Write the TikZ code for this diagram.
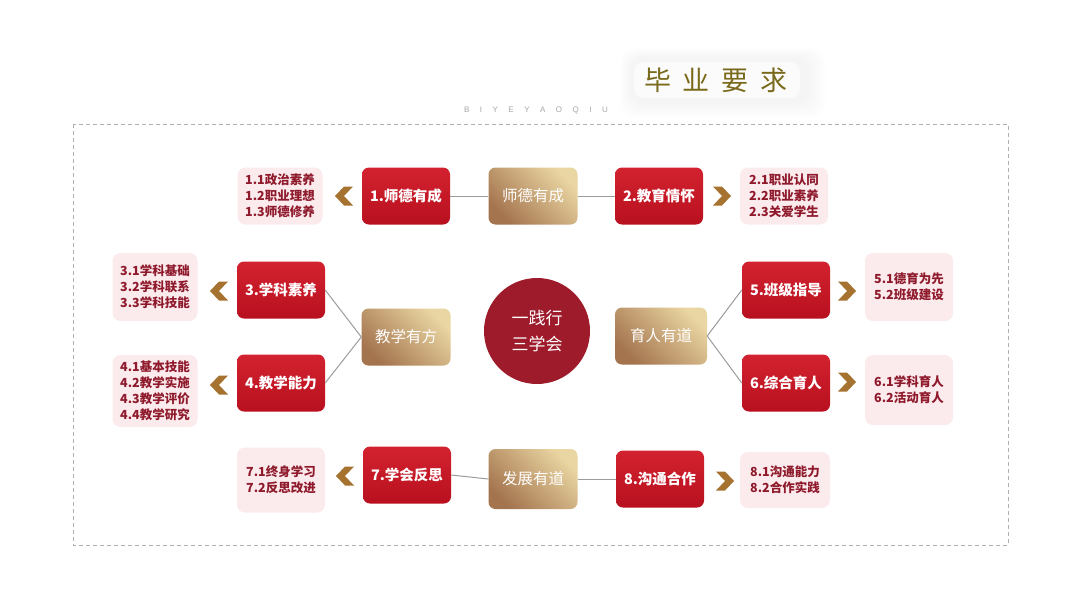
\documentclass[tikz,border=0pt]{standalone}
\usepackage{fontspec}
\newfontfamily\cjk{Noto Sans CJK SC}
\setsansfont{Liberation Sans}
\definecolor{redA}{HTML}{D3222F}
\definecolor{redB}{HTML}{B8101F}
\definecolor{goldD}{HTML}{A4744E}
\definecolor{goldL}{HTML}{EAD6A2}
\definecolor{pinkbg}{HTML}{FCEBED}
\definecolor{listred}{HTML}{8E1A2C}
\definecolor{circred}{HTML}{9E1B2B}
\definecolor{chevc}{HTML}{A6722F}
\definecolor{linec}{HTML}{9C9C9C}
\definecolor{titlec}{HTML}{7A6A1C}
\definecolor{framec}{HTML}{B0B0B0}
\tikzset{
  redbox/.style={rounded corners=7pt, minimum width=88pt, minimum height=57pt,
    top color=redA, bottom color=redB, draw=none, text=white, inner sep=0pt,
    font=\cjk\bfseries\fontsize{14.5}{18}\selectfont},
  goldbox/.style={rounded corners=7pt, minimum width=89pt, minimum height=57pt,
    left color=goldD, right color=goldL, shading angle=135, draw=none, text=white, inner sep=0pt,
    font=\cjk\fontsize{15.5}{18}\selectfont},
  listbox/.style={rounded corners=8pt, fill=pinkbg, text=listred, inner sep=0pt, align=left,
    font=\cjk\bfseries\fontsize{12.5}{16}\selectfont},
  conn/.style={draw=linec, line width=1pt},
  chevl/.pic={\fill[chevc] (-9,0) -- (0,-9.5) -- (9,-9.5) -- (0,0) -- (9,9.5) -- (0,9.5) -- cycle;},
  chevr/.pic={\fill[chevc] (9,0) -- (0,-9.5) -- (-9,-9.5) -- (0,0) -- (-9,9.5) -- (0,9.5) -- cycle;}
}
\begin{document}
\begin{tikzpicture}[x=1pt,y=-1pt]
\useasboundingbox[fill=white] (0,0) rectangle (1080,614);
% title glow
\foreach \i in {1,...,10}{
  \fill[black, opacity=0.004, rounded corners=14pt] (632-1.2*\i,58-1.0*\i) rectangle (808+1.8*\i,102+1.6*\i);
}
\fill[white, opacity=0.6, rounded corners=10pt] (634,62) rectangle (800,98);
\node[text=titlec, font=\cjk\fontsize{27}{30}\selectfont, inner sep=0pt] (title) at (716,80)
  {毕\hspace{12pt}业\hspace{12pt}要\hspace{12pt}求};
\node[text=gray!70, font=\sffamily\fontsize{8}{9}\selectfont, inner sep=0pt] (sub) at (536,110)
  {B\hspace{10.5pt}I\hspace{10.5pt}Y\hspace{10.5pt}E\hspace{10.5pt}Y\hspace{10.5pt}A\hspace{10.5pt}O\hspace{10.5pt}Q\hspace{10.5pt}I\hspace{10.5pt}U};
% frame
\draw[framec, line width=0.9pt, dash pattern=on 4pt off 3pt] (73,124) rectangle (1008,545);

% center
\node[circle, fill=circred, minimum size=106pt, inner sep=0pt, text=white, align=center,
  font=\cjk\fontsize{17}{26}\selectfont] (core) at (537,331) {一践行\\三学会};

% gold nodes
\node[goldbox] (g1) at (533,196) {师德有成};
\node[goldbox] (g2) at (406,337) {教学有方};
\node[goldbox, minimum width=92pt] (g3) at (661,336) {育人有道};
\node[goldbox, minimum height=60pt] (g4) at (533,479) {发展有道};

% red nodes
\node[redbox] (r1) at (406,196) {1.师德有成};
\node[redbox] (r2) at (659,196) {2.教育情怀};
\node[redbox] (r3) at (281,290) {3.学科素养};
\node[redbox] (r4) at (281,383) {4.教学能力};
\node[redbox] (r5) at (786,290) {5.班级指导};
\node[redbox] (r6) at (786,383) {6.综合育人};
\node[redbox] (r7) at (407,475) {7.学会反思};
\node[redbox] (r8) at (660,479) {8.沟通合作};

% lists
\node[listbox, minimum width=85pt, minimum height=57pt] (l1) at (280,196) {1.1政治素养\\1.2职业理想\\1.3师德修养};
\node[listbox, minimum width=88pt, minimum height=57pt] (l2) at (784,196) {2.1职业认同\\2.2职业素养\\2.3关爱学生};
\node[listbox, minimum width=85pt, minimum height=68pt] (l3) at (155,287) {3.1学科基础\\3.2学科联系\\3.3学科技能};
\node[listbox, minimum width=85pt, minimum height=72pt] (l4) at (155,391) {4.1基本技能\\4.2教学实施\\4.3教学评价\\4.4教学研究};
\node[listbox, minimum width=88pt, minimum height=68pt] (l5) at (909,287) {5.1德育为先\\5.2班级建设};
\node[listbox, minimum width=88pt, minimum height=70pt] (l6) at (909,390) {6.1学科育人\\6.2活动育人};
\node[listbox, minimum width=88pt, minimum height=65pt] (l7) at (281,480) {7.1终身学习\\7.2反思改进};
\node[listbox, minimum width=90pt, minimum height=56pt] (l8) at (785,480) {8.1沟通能力\\8.2合作实践};

% connectors
\draw[conn] (r1.east) -- (g1.west);
\draw[conn] (g1.east) -- (r2.west);
\draw[conn] (g2.west) -- (r3.east);
\draw[conn] (g2.west) -- (r4.east);
\draw[conn] (g3.east) -- (r5.west);
\draw[conn] (g3.east) -- (r6.west);
\draw[conn] (r7.east) -- (g4.west);
\draw[conn] (g4.east) -- (r8.west);

% chevrons
\pic (c1) at (344,196) {chevl};
\pic (c2) at (722,196) {chevr};
\pic (c3) at (219,291) {chevl};
\pic (c4) at (219,385) {chevl};
\pic (c5) at (847,291) {chevr};
\pic (c6) at (847,382) {chevr};
\pic (c7) at (345,476) {chevl};
\pic (c8) at (725,481) {chevr};
\end{tikzpicture}
\end{document}
